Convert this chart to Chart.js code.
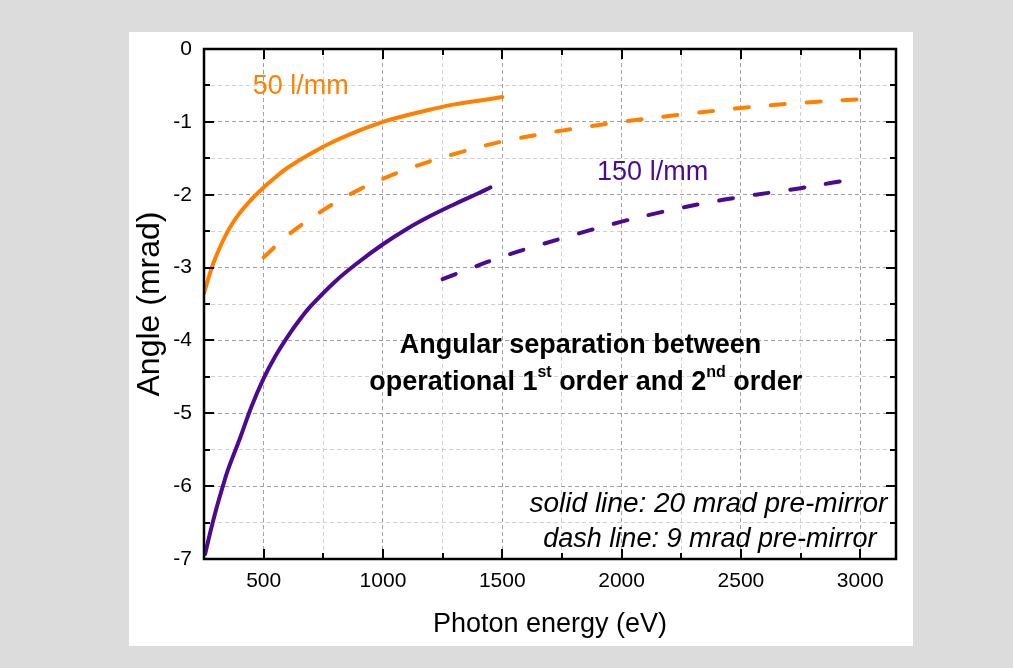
<!DOCTYPE html>
<html>
<head>
<meta charset="utf-8">
<script src="https://cdn.jsdelivr.net/npm/chart.js@4/dist/chart.umd.min.js"></script>
<style>
  html, body { margin: 0; padding: 0; background: #dcdcdc; }
  #panel { position: absolute; left: 129px; top: 32px; width: 784px; height: 614px; background: #fff; }
  canvas { display: block; }
</style>
</head>
<body>
<div id="panel"><canvas id="myChart" width="784" height="614"></canvas></div>
<script>
  // 50 l/mm, 20 mrad pre-mirror (solid)
  const energy50Solid = [250, 275, 300, 350, 400, 450, 500, 550, 600, 700, 800, 900, 1000, 1100, 1200, 1300, 1400, 1500];
  const angle50Solid = [-3.35, -3.08, -2.85, -2.5, -2.25, -2.06, -1.9, -1.76, -1.63, -1.43, -1.26, -1.12, -1.0, -0.91, -0.83, -0.76, -0.71, -0.66];
  // 50 l/mm, 9 mrad pre-mirror (dash)
  const energy50Dash = [500, 600, 700, 800, 900, 1000, 1100, 1200, 1300, 1400, 1500, 1750, 2000, 2250, 2500, 2750, 3050];
  const angle50Dash = [-2.86, -2.56, -2.32, -2.11, -1.93, -1.78, -1.65, -1.54, -1.44, -1.35, -1.27, -1.12, -1.0, -0.9, -0.81, -0.74, -0.68];
  // 150 l/mm, solid
  const energy150Solid = [255, 275, 300, 330, 350, 400, 450, 500, 550, 600, 650, 700, 800, 900, 1000, 1100, 1200, 1300, 1400, 1450];
  const angle150Solid = [-6.93, -6.65, -6.33, -5.99, -5.78, -5.35, -4.9, -4.52, -4.21, -3.95, -3.72, -3.52, -3.19, -2.92, -2.68, -2.47, -2.29, -2.13, -1.98, -1.9];
  // 150 l/mm, dash
  const energy150Dash = [1250, 1375, 1500, 1625, 1750, 1875, 2000, 2125, 2250, 2375, 2500, 2625, 2750, 2875, 2960];
  const angle150Dash = [-3.16, -3.0, -2.85, -2.72, -2.6, -2.48, -2.37, -2.27, -2.18, -2.1, -2.03, -1.97, -1.91, -1.84, -1.79];

  const ORANGE = '#ff8000';
  const PURPLE = '#4b0a8f';
  const FONT = 'Arial, "Liberation Sans", sans-serif';

  function pts(xs, ys) {
    return xs.map((v, i) => ({x: v, y: ys[i]}));
  }

  function lineSet(label, xs, ys, color, dashed) {
    return {
      label: label,
      data: pts(xs, ys),
      borderColor: color,
      backgroundColor: color,
      borderWidth: 4,
      borderDash: dashed ? [14, 22] : [],
      borderCapStyle: 'round',
      borderJoinStyle: 'round',
      pointRadius: 0,
      tension: 0.4,
      fill: false
    };
  }

  // frame, inward ticks and text labels
  const decorations = {
    id: 'decorations',
    afterDraw(chart) {
      const {ctx, chartArea: a, scales: {x, y}} = chart;
      ctx.save();
      ctx.strokeStyle = '#000';
      ctx.lineWidth = 2;
      ctx.beginPath();
      x.ticks.forEach(t => {
        if (t.value % 250 !== 0) return;
        const px = Math.round(x.getPixelForValue(t.value));
        const len = t.value % 500 === 0 ? 10 : 6;
        ctx.moveTo(px, a.bottom); ctx.lineTo(px, a.bottom - len);
        ctx.moveTo(px, a.top); ctx.lineTo(px, a.top + len);
      });
      y.ticks.forEach(t => {
        const py = Math.round(y.getPixelForValue(t.value));
        const len = Number.isInteger(t.value) ? 10 : 6;
        ctx.moveTo(a.left, py); ctx.lineTo(a.left + len, py);
        ctx.moveTo(a.right, py); ctx.lineTo(a.right - len, py);
      });
      ctx.stroke();
      ctx.lineWidth = 2.5;
      ctx.strokeRect(a.left, a.top, a.right - a.left, a.bottom - a.top);

      ctx.textBaseline = 'middle';
      ctx.textAlign = 'center';
      ctx.font = '27px ' + FONT;
      ctx.fillStyle = ORANGE;
      ctx.fillText('50 l/mm', x.getPixelForValue(655), y.getPixelForValue(-0.52));
      ctx.fillStyle = PURPLE;
      ctx.fillText('150 l/mm', x.getPixelForValue(2130), y.getPixelForValue(-1.7));

      // bold annotation with superscripts
      ctx.fillStyle = '#000';
      ctx.font = 'bold 27px ' + FONT;
      ctx.fillText('Angular separation between', x.getPixelForValue(1828), y.getPixelForValue(-4.07));
      const parts = [['operational 1', false], ['st', true], [' order and 2', false], ['nd', true], [' order', false]];
      const big = 'bold 27px ' + FONT, small = 'bold 16px ' + FONT;
      let total = 0;
      parts.forEach(p => { ctx.font = p[1] ? small : big; total += ctx.measureText(p[0]).width; });
      let cx = x.getPixelForValue(1850) - total / 2;
      const cy = y.getPixelForValue(-4.58);
      ctx.textAlign = 'left';
      parts.forEach(p => {
        ctx.font = p[1] ? small : big;
        ctx.fillText(p[0], cx, p[1] ? cy - 10 : cy);
        cx += ctx.measureText(p[0]).width;
      });

      ctx.textAlign = 'right';
      ctx.font = 'italic 28px ' + FONT;
      ctx.fillText('solid line: 20 mrad pre-mirror', x.getPixelForValue(3114), y.getPixelForValue(-6.25));
      ctx.font = 'italic 27px ' + FONT;
      ctx.fillText('dash line: 9 mrad pre-mirror', x.getPixelForValue(3068), y.getPixelForValue(-6.73));
      ctx.restore();
    }
  };

  const gridColor = c => (c.tick && c.tick.value % (c.scale.axis === 'x' ? 500 : 1) === 0) ? '#a0a0a0' : '#d0d0d0';

  const config = {
    type: 'line',
    data: {
      datasets: [
        lineSet('50 l/mm solid', energy50Solid, angle50Solid, ORANGE, false),
        lineSet('50 l/mm dash', energy50Dash, angle50Dash, ORANGE, true),
        lineSet('150 l/mm solid', energy150Solid, angle150Solid, PURPLE, false),
        lineSet('150 l/mm dash', energy150Dash, angle150Dash, PURPLE, true)
      ]
    },
    options: {
      animation: false,
      responsive: false,
      devicePixelRatio: 1,
      layout: { padding: { left: 0, top: 17, right: 17, bottom: 0 } },
      plugins: {
        legend: { display: false },
        tooltip: { enabled: false }
      },
      scales: {
        x: {
          type: 'linear',
          min: 250,
          max: 3150,
          afterFit: s => { s.height = 87; s.paddingLeft = 0; s.paddingRight = 0; },
          border: { display: false, dash: [4, 3] },
          grid: { color: gridColor, lineWidth: 1, drawTicks: false },
          ticks: {
            stepSize: 250,
            includeBounds: false,
            autoSkip: false,
            maxRotation: 0,
            padding: 10,
            color: '#000',
            font: { family: FONT, size: 21 },
            callback: v => (v % 500 === 0 ? String(v) : '')
          },
          title: {
            display: true,
            text: 'Photon energy (eV)',
            color: '#000',
            font: { family: FONT, size: 27 },
            padding: { top: 0, bottom: 5 }
          }
        },
        y: {
          type: 'linear',
          min: -7,
          max: 0,
          afterFit: s => { s.width = 75; s.paddingTop = 0; s.paddingBottom = 0; },
          border: { display: false, dash: [4, 3] },
          grid: { color: gridColor, lineWidth: 1, drawTicks: false },
          ticks: {
            stepSize: 0.5,
            autoSkip: false,
            padding: 12,
            color: '#000',
            font: { family: FONT, size: 21 },
            callback: v => (Number.isInteger(v) ? String(v) : '')
          },
          title: {
            display: true,
            text: 'Angle (mrad)',
            color: '#000',
            font: { family: FONT, size: 32 },
            padding: { top: 2, bottom: 0 }
          }
        }
      }
    },
    plugins: [decorations]
  };

  let myChart = new Chart(document.getElementById('myChart'), config);
</script>
</body>
</html>
